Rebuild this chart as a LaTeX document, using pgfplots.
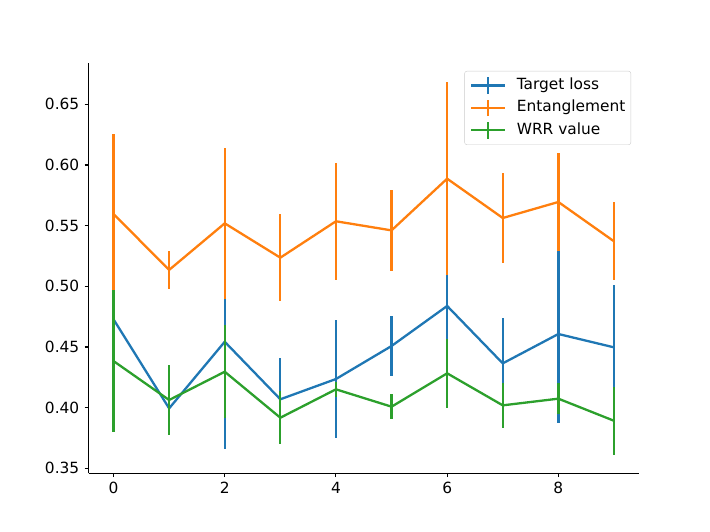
\documentclass[border=0pt]{standalone}
\usepackage{fontspec}
\setmainfont{DejaVu Sans}
\usepackage{pgfplots}
\usepackage{pgfplotstable}
\pgfplotsset{compat=1.18}
\definecolor{tblue}{HTML}{1F77B4}
\definecolor{torange}{HTML}{FF7F0E}
\definecolor{tgreen}{HTML}{2CA02C}
\pgfplotstableread{
x y e
0 0.4728 0.020
1 0.3994 0.020
2 0.4543 0.0886
3 0.4069 0.0338
4 0.4236 0.0486
5 0.4508 0.0245
6 0.4838 0.030
7 0.4365 0.0376
8 0.4607 0.0736
9 0.4497 0.0514
}\target
\pgfplotstableread{
x y e
0 0.5596 0.0657
1 0.5135 0.0158
2 0.5519 0.0623
3 0.5236 0.0360
4 0.5536 0.0480
5 0.5461 0.0335
6 0.5887 0.0794
7 0.5563 0.0367
8 0.5695 0.0406
9 0.5371 0.0320
}\entang
\pgfplotstableread{
x y e
0 0.4384 0.0585
1 0.4063 0.0290
2 0.4296 0.0383
3 0.3917 0.0217
4 0.4151 0.0060
5 0.4008 0.0103
6 0.4283 0.0285
7 0.4019 0.0183
8 0.4074 0.0130
9 0.3892 0.0282
}\wrr
\begin{document}
\fontsize{15.4}{18}\selectfont
\begin{tikzpicture}
\useasboundingbox (0,0) rectangle (710pt,532pt);
\begin{axis}[
  at={(88.5pt,58.7pt)}, anchor=south west,
  scale only axis, width=550.5pt, height=410pt,
  xmin=-0.45, xmax=9.45, ymin=0.3459, ymax=0.6838,
  axis x line*=bottom, axis y line*=left,
  axis line style={line width=1.1pt},
  tick align=outside, major tick length=3.9pt,
  tick style={line width=1.1pt, black},
  xtick={0,2,4,6,8},
  ytick={0.35,0.40,0.45,0.50,0.55,0.60,0.65},
  yticklabel style={/pgf/number format/.cd, fixed, fixed zerofill, precision=2},
  /pgf/number format/assume math mode=true,
  tick label style={font=\fontsize{15.4}{18}\selectfont},
  legend style={at={(0.9855,0.9812)}, anchor=north east, draw=black!20,
    rounded corners=2.2pt, fill=white, fill opacity=0.8, text opacity=1,
    font=\fontsize{15.4}{18}\selectfont, inner xsep=5.5pt, inner ysep=5pt,
    row sep=3.4pt, column sep=11pt,
    nodes={inner sep=0pt, text height=11.5pt, text depth=3.5pt}},
  legend cell align=left,
  legend image code/.code={
    \draw[line width=2.3pt] (0pt,0pt) -- (33.3pt,0pt);
    \draw[line width=2.3pt] (16.65pt,-8.3pt) -- (16.65pt,8.3pt);},
  every axis plot/.append style={line width=2.3pt, line join=round, no markers},
]
\addplot[tblue, error bars/.cd, y dir=both, y explicit, error mark=none,
  error bar style={line width=2.3pt, tblue}] table[x=x, y=y, y error=e]{\target};
\addlegendentry{Target loss}
\addplot[torange, error bars/.cd, y dir=both, y explicit, error mark=none,
  error bar style={line width=2.3pt, torange}] table[x=x, y=y, y error=e]{\entang};
\addlegendentry{Entanglement}
\addplot[tgreen, error bars/.cd, y dir=both, y explicit, error mark=none,
  error bar style={line width=2.3pt, tgreen}] table[x=x, y=y, y error=e]{\wrr};
\addlegendentry{WRR value}
\end{axis}
\end{tikzpicture}
\end{document}
